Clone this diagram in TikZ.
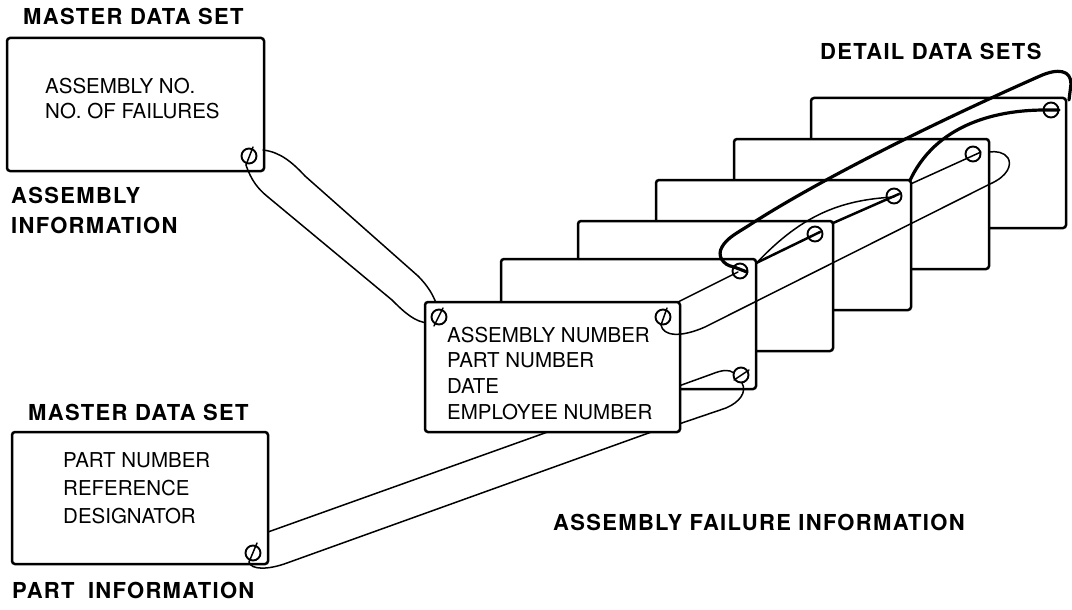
\documentclass[tikz,border=0pt]{standalone}
\usepackage{fontspec}
\setmainfont{TeX Gyre Heros}
\newfontfamily\headfont[LetterSpace=6]{TeX Gyre Heros}
\usetikzlibrary{calc}
\begin{document}
\begin{tikzpicture}[x=1pt,y=-1pt,
 cardbox/.style={draw,line width=2.5pt,fill=white,rounded corners=3pt,minimum width=255pt,minimum height=130pt,anchor=north west,inner sep=0pt,outer sep=0pt},
 masterbox/.style={draw,line width=2.5pt,fill=white,rounded corners=3pt,anchor=north west,inner sep=0pt,outer sep=0pt},
 hole/.style={draw,line width=1.9pt,fill=white,circle,minimum size=15pt,inner sep=0pt},
 thin/.style={line width=1.5pt,line cap=round},
 heavy/.style={line width=3.2pt,line cap=round},
 medium/.style={line width=2.5pt,line cap=round},
 head/.style={anchor=base west,inner sep=0pt,font=\headfont\bfseries\fontsize{22}{26}\selectfont},
 body/.style={anchor=base west,inner sep=0pt,font=\fontsize{20.5}{24}\selectfont}]
\useasboundingbox (0,0) rectangle (1072,610);

% master data sets
\node[masterbox,minimum width=257pt,minimum height=133pt] (ma) at (7,38) {};
\node[masterbox,minimum width=256pt,minimum height=132pt] (mb) at (12,432) {};
\node[hole] (ha) at (249,156) {};
\node[hole] (hb) at (253,553) {};

% assembly cord
\draw[thin] (263,150) .. controls (280,152) and (292,162) .. (305,176) -- (418,276) .. controls (428,286) and (433,295) .. (436,303);
\draw[thin] ($(ha)+(4,-9)$) -- ($(ha)+(-3,9)$) .. controls (251,180) and (258,189) .. (268,197) -- (392,300) .. controls (405,313) and (415,322) .. (428,323);

% part cord
\draw[thin] (268,532) -- (556,429);
\draw[thin] ($(hb)+(4,-10)$) -- ($(hb)+(-4,9)$) .. controls (251,570) and (268,570) .. (287,563) -- (657,430);

% detail data sets, back to front
\node[cardbox] (c6) at (811,98) {};
\node[hole] (h6) at (1051,110) {};
\node[cardbox] (c5) at (734,139) {};
\node[hole] (h5) at (973,154) {};
\draw[heavy] ($(h6)+(8,0)$) -- ($(h6)+(-6,0)$) .. controls (995,110) and (930,125) .. (906,190);
\draw[thin] ($(h5)+(8,-2)$) -- (904,187);
\node[cardbox] (c4) at (656,180) {};
\node[hole] (h4) at (894,196) {};
\draw[medium] (824,227) -- ($(h4)+(5,-2)$);
\node[cardbox] (c3) at (578,221) {};
\node[hole] (h3) at (815,234) {};
\draw[medium] (748,267) -- ($(h3)+(5,-2)$);
\draw[thin] ($(h4)+(0,1)$) .. controls (840,200) and (800,215) .. (752,268);
\node[cardbox] (c2) at (501,259) {};
\node[hole] (h2) at (740,271) {};
\node[hole] (h2b) at (741,375) {};
\draw[thin] (676,303) -- ($(h2)+(-2,1)$);
\draw[thin] (676,387) -- (712,374) .. controls (722,370) and (729,369) .. (734,373);
\draw[thin] ($(h2b)+(-7,5)$) -- ($(h2b)+(8,-5)$);
\draw[thin] ($(h2b)+(1,8)$) .. controls (747,392) and (740,402) .. (726,408) -- (676,425);
\node[cardbox] (c1) at (425,302) {};
\node[hole] (h1l) at (439,317) {};
\node[hole] (h1r) at (663,317) {};
\draw[thin] ($(h1l)+(-5,9)$) -- ($(h1l)+(4,-9)$);

% cords on top
\draw[thin] ($(h1r)+(4,-9)$) -- ($(h1r)+(-2,8)$) .. controls (663,336) and (680,338) .. (705,327) -- (990,184) .. controls (1008,176) and (1012,165) .. (1008,158) .. controls (1004,152) and (996,151) .. (989,152);
\draw[heavy] ($(h2)+(7,1)$) -- (734,267) .. controls (722,265) and (717,255) .. (722,247) .. controls (727,238) and (737,233) .. (748,226) .. controls (800,192) and (900,138) .. (1040,76) .. controls (1058,68) and (1071,70) .. (1071,84) -- (1069,100);

% texts
\node[head] (t1) at (23,25) {MASTER DATA SET};
\node[body] (a1) at (45,94) {ASSEMBLY NO.};
\node[body] (a2) at (45,118) {NO. OF FAILURES};
\node[head] (t2) at (11,203) {ASSEMBLY};
\node[head] (t3) at (11,233) {INFORMATION};
\node[head] (t4) at (28,420) {MASTER DATA SET};
\node[body] (b1) at (63,467) {PART NUMBER};
\node[body] (b2) at (63,495) {REFERENCE};
\node[body] (b3) at (63,523) {DESIGNATOR};
\node[head] (t5) at (12,598) {PART\hspace{6pt} INFORMATION};
\node[head] (t6) at (820,60) {DETAIL DATA SETS};
\node[head] (t7) at (553,530) {ASSEMBLY FAILURE INFORMATION};
\node[body] (d1) at (447,342) {ASSEMBLY NUMBER};
\node[body] (d2) at (447,367) {PART NUMBER};
\node[body] (d3) at (447,393) {DATE};
\node[body] (d4) at (447,419) {EMPLOYEE NUMBER};
\end{tikzpicture}
\end{document}
